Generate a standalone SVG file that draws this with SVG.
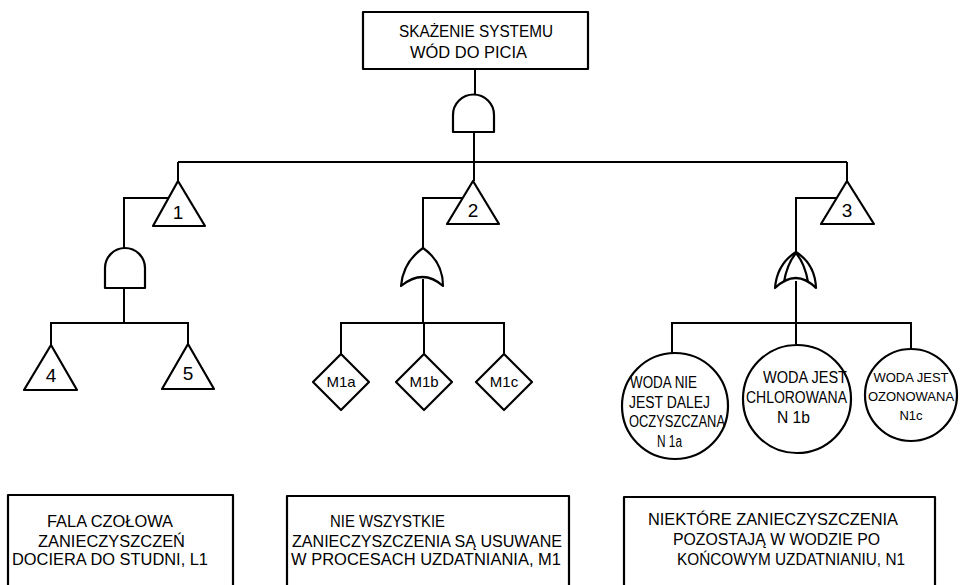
<svg xmlns="http://www.w3.org/2000/svg" width="962" height="585" viewBox="0 0 962 585">
<style>
.s{fill:none;stroke:#000;stroke-width:2.2;stroke-linejoin:round}
.n{fill:#fff;stroke:#000;stroke-width:2.2;stroke-linejoin:round}
.c{fill:none;stroke:#000;stroke-width:2}
text{font-family:"Liberation Sans",Arial,sans-serif;font-size:16px;fill:#000}
.num{font-size:19px;text-anchor:middle}
.dl{font-size:15px;text-anchor:middle}
.sm{font-size:13px;text-anchor:middle}
</style>
<rect width="962" height="585" fill="#fff"/>
<g id="connectors">
<line class="c" x1="475" y1="69" x2="475" y2="95"/>
<line class="c" x1="474" y1="132" x2="474" y2="181"/>
<line class="c" x1="178" y1="162" x2="847" y2="162"/>
<line class="c" x1="178" y1="162" x2="178" y2="181"/>
<line class="c" x1="847" y1="162" x2="847" y2="181"/>
<polyline class="c" points="169,198 124,198 124,248"/>
<line class="c" x1="124" y1="288" x2="124" y2="323"/>
<polyline class="c" points="51,345 51,323 188,323 188,345"/>
<polyline class="c" points="463,198 423,198 423,248"/>
<line class="c" x1="423" y1="279" x2="423" y2="323"/>
<polyline class="c" points="341,354 341,323 504,323 504,354"/>
<line class="c" x1="424" y1="323" x2="424" y2="354"/>
<polyline class="c" points="837,198 796,198 796,252"/>
<line class="c" x1="796" y1="281" x2="796" y2="344"/>
<polyline class="c" points="672,353 672,323 911,323 911,349"/>
</g>
<g id="top">
<rect class="n" x="363" y="12" width="225" height="57"/>
<text x="399" y="37" textLength="154" lengthAdjust="spacingAndGlyphs">SKAŻENIE SYSTEMU</text>
<text x="410" y="58" textLength="117" lengthAdjust="spacingAndGlyphs">WÓD DO PICIA</text>
</g>
<g id="gate-top"><path class="n" d="M453,132 L453,115 A20.5,20.5 0 0 1 494,115 L494,132 Z"/></g>
<g id="t1"><polygon class="n" points="178,181 153,226 205,226"/><text class="num" x="178" y="219">1</text></g>
<g id="t2"><polygon class="n" points="473,181 447,224 499,224"/><text class="num" x="473" y="217">2</text></g>
<g id="t3"><polygon class="n" points="847,181 821,224 874,224"/><text class="num" x="847" y="217">3</text></g>
<g id="gate1"><path class="n" d="M105,288 L105,268 A20,20 0 0 1 145,268 L145,288 Z"/></g>
<g id="t4"><polygon class="n" points="51,345 24,390 77,390"/><text class="num" x="51" y="382">4</text></g>
<g id="t5"><polygon class="n" points="188,344 162,389 214,389"/><text class="num" x="188" y="380">5</text></g>
<g id="gate2"><path class="n" d="M401,286 Q403,262 423,248 Q443,262 443,286 Q423,268 401,286 Z"/></g>
<g id="m1a"><polygon class="n" points="341,354 369,382 341,410 313,382"/><text class="dl" x="341" y="387">M1a</text></g>
<g id="m1b"><polygon class="n" points="424,354 452,382 424,410 396,382"/><text class="dl" x="424" y="387">M1b</text></g>
<g id="m1c"><polygon class="n" points="504,354 532,382 504,410 476,382"/><text class="dl" x="504" y="387">M1c</text></g>
<g id="gate3">
<path class="n" d="M775,288 Q777,264 796,252 Q815,264 816,288 Q796,268 775,288 Z"/>
<path class="s" d="M784,282 Q787,264 796,253 Q805,264 808,282"/>
</g>
<g id="n1a">
<circle class="n" cx="675" cy="406" r="53"/>
<text x="630" y="388" textLength="67" lengthAdjust="spacingAndGlyphs">WODA NIE</text>
<text x="629" y="408" textLength="81" lengthAdjust="spacingAndGlyphs">JEST  DALEJ</text>
<text x="629" y="427" textLength="96" lengthAdjust="spacingAndGlyphs">OCZYSZCZANA</text>
<text x="657" y="447" textLength="25" lengthAdjust="spacingAndGlyphs">N 1a</text>
</g>
<g id="n1b">
<circle class="n" cx="797" cy="399" r="54"/>
<text x="763" y="383" textLength="84" lengthAdjust="spacingAndGlyphs">WODA JEST</text>
<text x="746" y="403" textLength="101" lengthAdjust="spacingAndGlyphs">CHLOROWANA</text>
<text x="777" y="423" textLength="33" lengthAdjust="spacingAndGlyphs">N 1b</text>
</g>
<g id="n1c">
<circle class="n" cx="911" cy="395" r="46"/>
<text class="sm" x="911" y="382">WODA JEST</text>
<text class="sm" x="911" y="401">OZONOWANA</text>
<text class="sm" x="911" y="420">N1c</text>
</g>
<g id="l1">
<rect class="n" x="8" y="495" width="225" height="110"/>
<text x="47" y="527" textLength="126" lengthAdjust="spacingAndGlyphs">FALA  CZOŁOWA</text>
<text x="38" y="547" textLength="147" lengthAdjust="spacingAndGlyphs">ZANIECZYSZCZEŃ</text>
<text x="12" y="565" textLength="196" lengthAdjust="spacingAndGlyphs">DOCIERA DO STUDNI, L1</text>
</g>
<g id="m1">
<rect class="n" x="287" y="496" width="282" height="110"/>
<text x="330" y="527" textLength="115" lengthAdjust="spacingAndGlyphs">NIE  WSZYSTKIE</text>
<text x="292" y="547" textLength="270" lengthAdjust="spacingAndGlyphs">ZANIECZYSZCZENIA SĄ USUWANE</text>
<text x="291" y="565" textLength="270" lengthAdjust="spacingAndGlyphs">W PROCESACH UZDATNIANIA, M1</text>
</g>
<g id="n1">
<rect class="n" x="624" y="497" width="311" height="110"/>
<text x="648" y="525" textLength="250" lengthAdjust="spacingAndGlyphs">NIEKTÓRE  ZANIECZYSZCZENIA</text>
<text x="673" y="545" textLength="207" lengthAdjust="spacingAndGlyphs">POZOSTAJĄ W WODZIE PO</text>
<text x="677" y="565" textLength="228" lengthAdjust="spacingAndGlyphs">KOŃCOWYM UZDATNIANIU, N1</text>
</g>
</svg>
